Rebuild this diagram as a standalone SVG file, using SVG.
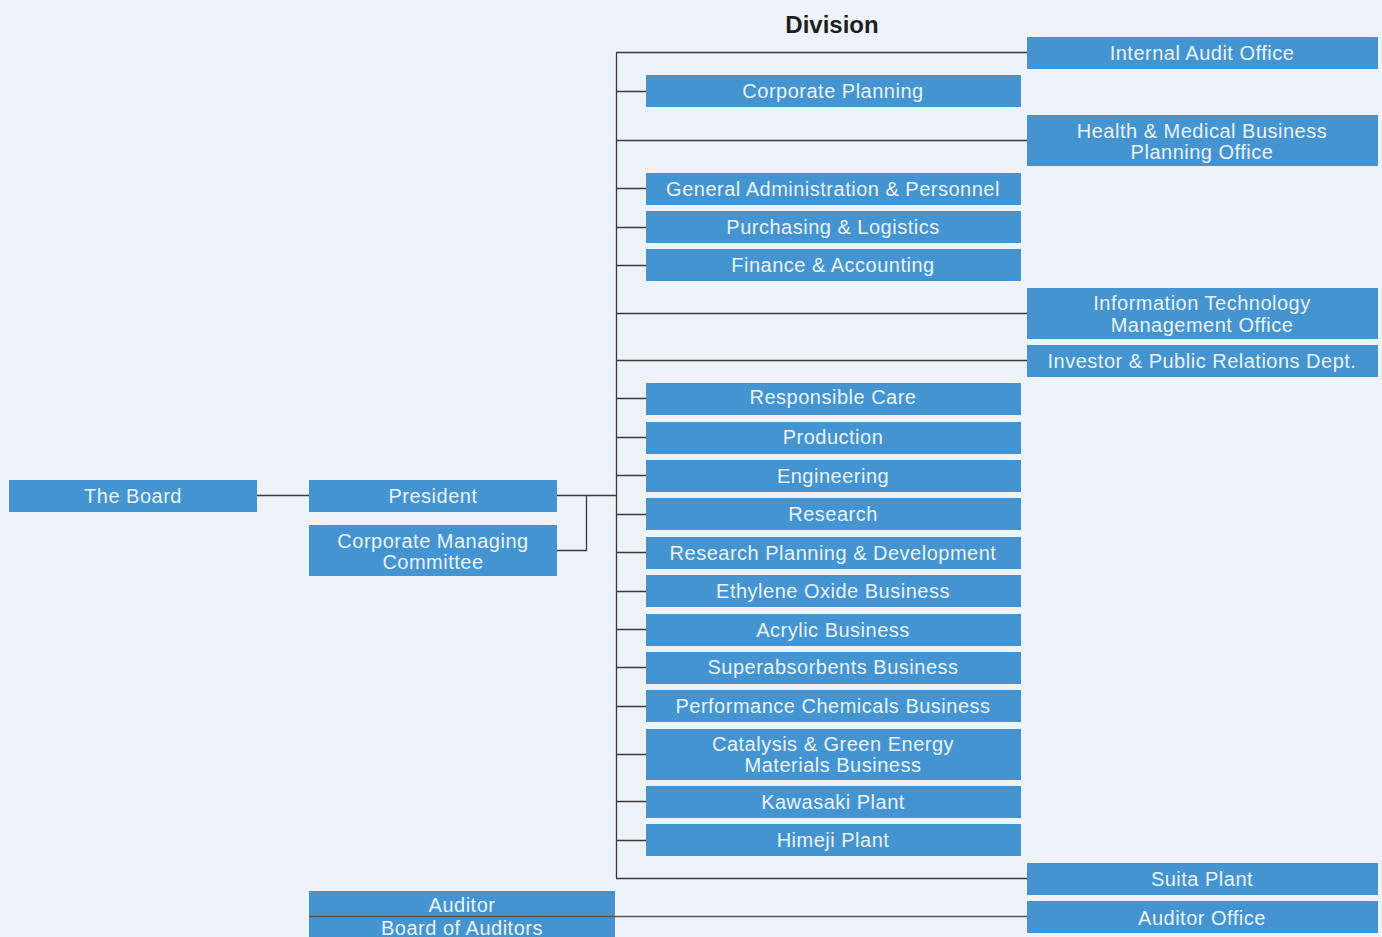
<svg xmlns="http://www.w3.org/2000/svg" width="1382" height="937" viewBox="0 0 1382 937">
<style>
.b{fill:#4394D0}
.t{fill:#EAF2FA;font-family:"Liberation Sans",Arial,sans-serif;font-size:20px;letter-spacing:0.5px;text-anchor:middle}
.c{stroke:#3a3a3a;stroke-width:1.3;fill:none}
.h{font-family:"Liberation Sans",Arial,sans-serif;font-size:24px;font-weight:bold;fill:#1e1e1e;text-anchor:middle}
</style>
<rect width="1382" height="937" fill="#EEF3FA"/>
<text class="h" x="832" y="33">Division</text>
<g id="board"><rect class="b" x="9" y="480" width="248" height="32"/><text class="t" x="133" y="503">The Board</text></g>
<g id="president"><rect class="b" x="309" y="480" width="248" height="32"/><text class="t" x="433" y="503">President</text></g>
<g id="cmc"><rect class="b" x="309" y="525" width="248" height="51"/><text class="t" x="433" y="548">Corporate Managing</text><text class="t" x="433" y="569">Committee</text></g>
<g id="auditor"><rect class="b" x="309" y="891" width="306" height="46"/><text class="t" x="462" y="912">Auditor</text><text class="t" x="462" y="935">Board of Auditors</text></g>
<g id="internal-audit"><rect class="b" x="1027" y="37" width="351" height="32"/><text class="t" x="1202" y="60">Internal Audit Office</text></g>
<g id="corp-planning"><rect class="b" x="646" y="75" width="375" height="32"/><text class="t" x="833" y="98">Corporate Planning</text></g>
<g id="health"><rect class="b" x="1027" y="115" width="351" height="51"/><text class="t" x="1202" y="138">Health &amp; Medical Business</text><text class="t" x="1202" y="159">Planning Office</text></g>
<g id="gen-admin"><rect class="b" x="646" y="173" width="375" height="32"/><text class="t" x="833" y="196">General Administration &amp; Personnel</text></g>
<g id="purchasing"><rect class="b" x="646" y="211" width="375" height="32"/><text class="t" x="833" y="234">Purchasing &amp; Logistics</text></g>
<g id="finance"><rect class="b" x="646" y="249" width="375" height="32"/><text class="t" x="833" y="272">Finance &amp; Accounting</text></g>
<g id="it"><rect class="b" x="1027" y="288" width="351" height="51"/><text class="t" x="1202" y="310">Information Technology</text><text class="t" x="1202" y="332">Management Office</text></g>
<g id="investor"><rect class="b" x="1027" y="345" width="351" height="32"/><text class="t" x="1202" y="368">Investor &amp; Public Relations Dept.</text></g>
<g id="resp-care"><rect class="b" x="646" y="383" width="375" height="32"/><text class="t" x="833" y="404">Responsible Care</text></g>
<g id="production"><rect class="b" x="646" y="422" width="375" height="32"/><text class="t" x="833" y="444">Production</text></g>
<g id="engineering"><rect class="b" x="646" y="460" width="375" height="32"/><text class="t" x="833" y="483">Engineering</text></g>
<g id="research"><rect class="b" x="646" y="498" width="375" height="32"/><text class="t" x="833" y="521">Research</text></g>
<g id="rpd"><rect class="b" x="646" y="537" width="375" height="32"/><text class="t" x="833" y="560">Research Planning &amp; Development</text></g>
<g id="ethylene"><rect class="b" x="646" y="575" width="375" height="32"/><text class="t" x="833" y="598">Ethylene Oxide Business</text></g>
<g id="acrylic"><rect class="b" x="646" y="614" width="375" height="32"/><text class="t" x="833" y="637">Acrylic Business</text></g>
<g id="superabsorbents"><rect class="b" x="646" y="652" width="375" height="32"/><text class="t" x="833" y="674">Superabsorbents Business</text></g>
<g id="performance"><rect class="b" x="646" y="690" width="375" height="32"/><text class="t" x="833" y="713">Performance Chemicals Business</text></g>
<g id="catalysis"><rect class="b" x="646" y="729" width="375" height="51"/><text class="t" x="833" y="751">Catalysis &amp; Green Energy</text><text class="t" x="833" y="772">Materials Business</text></g>
<g id="kawasaki"><rect class="b" x="646" y="786" width="375" height="32"/><text class="t" x="833" y="809">Kawasaki Plant</text></g>
<g id="himeji"><rect class="b" x="646" y="824" width="375" height="32"/><text class="t" x="833" y="847">Himeji Plant</text></g>
<g id="suita"><rect class="b" x="1027" y="863" width="351" height="32"/><text class="t" x="1202" y="886">Suita Plant</text></g>
<g id="auditor-office"><rect class="b" x="1027" y="901" width="351" height="32"/><text class="t" x="1202" y="925">Auditor Office</text></g>
<g id="connectors" class="c">
<path d="M257 495.5H309M557 495.5H616M557 550.5H586.5V495.5"/>
<path d="M616.5 52.5V878.5"/>
<path d="M616 52.5H1027M616 91.5H646M616 140.5H1027M616 188.5H646M616 227.5H646M616 265.5H646M616 313.5H1027M616 360.5H1027M616 398.5H646M616 437.5H646M616 475.5H646M616 514.5H646M616 552.5H646M616 591.5H646M616 629.5H646M616 667.5H646M616 706.5H646M616 754.5H646M616 801.5H646M616 840.5H646M616 878.5H1027"/>
<path d="M309 916.5H1027" stroke="#555"/>
</g>
</svg>
